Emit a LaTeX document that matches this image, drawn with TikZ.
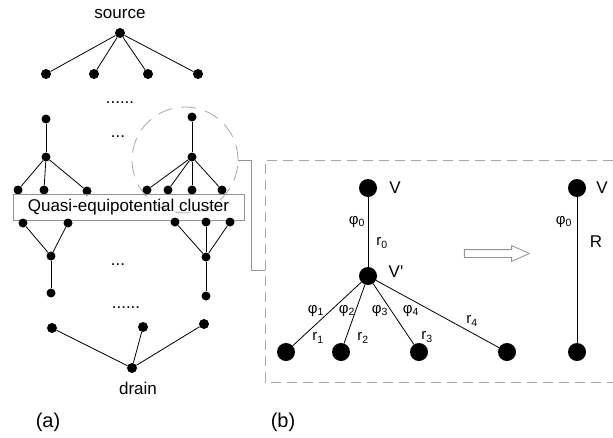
\documentclass[tikz,border=0pt]{standalone}
\usepackage{fontspec}
\setmainfont{Liberation Sans}
\usetikzlibrary{shapes.arrows}
\begin{document}
\begin{tikzpicture}[x=1pt, y=-1pt, line join=round,
  dot/.style={circle, fill=black, inner sep=0pt, minimum size=10pt},
  bigdot/.style={circle, fill=black, inner sep=0pt, minimum size=18pt},
  txt/.style={font=\fontsize{17}{20}\selectfont, inner sep=0pt},
  lbl/.style={font=\fontsize{15}{18}\selectfont, inner sep=0pt},
  edge/.style={line width=0.8pt},
  grayline/.style={draw=gray!85, line width=0.8pt},
  graydash/.style={draw=gray!70, line width=0.8pt, dash pattern=on 10pt off 6pt}]
\useasboundingbox (0,0) rectangle (613,437);
% (a) network
\node[txt] (srclbl) at (120,14) {source};
\node[dot] (src) at (120,33) {};
\node[dot] (a1) at (46,74) {};
\node[dot] (a2) at (94,74) {};
\node[dot] (a3) at (148,74) {};
\node[dot] (a4) at (198,74) {};
\foreach \n in {a1,a2,a3,a4} \draw[edge] (src) -- (\n);
\node[txt] (dotsA) at (120,103) {......};
\node[txt] (dotsB) at (118,137) {...};
% left branch
\node[dot, minimum size=9pt] (l1) at (46,119) {};
\node[dot, minimum size=9pt] (l2) at (46,157) {};
\node[dot, minimum size=9pt] (lc1) at (18,190) {};
\node[dot, minimum size=9pt] (lc2) at (44,190) {};
\node[dot, minimum size=9pt] (lc3) at (87,191) {};
\draw[edge] (l1) -- (l2);
\foreach \n in {lc1,lc2,lc3} \draw[edge] (l2) -- (\n);
% right branch
\node[dot, minimum size=9pt] (r1) at (192,117) {};
\node[dot, minimum size=9pt] (r2) at (192,157) {};
\node[dot, minimum size=9pt] (rc1) at (147,190) {};
\node[dot, minimum size=9pt] (rc2) at (168,190) {};
\node[dot, minimum size=9pt] (rc3) at (192,190) {};
\node[dot, minimum size=9pt] (rc4) at (222,190) {};
\draw[edge] (r1) -- (r2);
\foreach \n in {rc1,rc2,rc3,rc4} \draw[edge] (r2) -- (\n);
% cluster
\node[graydash, circle, minimum size=106pt, inner sep=0pt, dash pattern=on 15pt off 9pt] (clus) at (185,160) {};
\node[txt, grayline, minimum width=231pt, minimum height=26pt] (qbox) at (128.5,207) {Quasi-equipotential cluster};
\node[dot, minimum size=9pt] (ld1) at (23,223) {};
\node[dot, minimum size=9pt] (ld2) at (68,223) {};
\node[dot, minimum size=9pt] (lm) at (51,256) {};
\node[dot, minimum size=9pt] (lb) at (51,293) {};
\node[dot, minimum size=9pt] (rd1) at (175,222) {};
\node[dot, minimum size=9pt] (rd2) at (206,222) {};
\node[dot, minimum size=9pt] (rd3) at (230,222) {};
\node[dot, minimum size=9pt] (rm) at (206,257) {};
\node[dot, minimum size=9pt] (rb) at (206,296) {};
\foreach \n in {ld1,ld2,lb} \draw[edge] (lm) -- (\n);
\foreach \n in {rd1,rd2,rd3,rb} \draw[edge] (rm) -- (\n);
\node[txt] (dotsC) at (118,265) {...};
\node[txt] (dotsD) at (126,308) {......};
% drain
\node[dot] (b1) at (52,328) {};
\node[dot] (b2) at (143,327) {};
\node[dot] (b3) at (204,324) {};
\node[dot] (drn) at (132,368) {};
\foreach \n in {b1,b2,b3} \draw[edge] (drn) -- (\n);
\node[txt] (drnlbl) at (138,388) {drain};
\node[txt, font=\fontsize{20}{24}\selectfont] (capa) at (48,422) {(a)};
% (b) zoomed view
\coordinate (bx) at (265,270);
\draw[graydash] (613,160) -- (265,160) -- (265,382) -- (613,382);
\draw[grayline] (clus.east) -- ++(13,0) |- (bx);
\node[bigdot] (V) at (368,188) {};
\node[bigdot] (Vp) at (368,276) {};
\node[bigdot] (n1) at (286,352) {};
\node[bigdot] (n2) at (341,352) {};
\node[bigdot] (n3) at (419,352) {};
\node[bigdot] (n4) at (507,352) {};
\draw[edge] (V) -- (Vp);
\foreach \n in {n1,n2,n3,n4} \draw[edge] (Vp) -- (\n);
\node[txt] (Vlbl) at (395,188) {V};
\node[txt] (Vplbl) at (396,272) {V\textquotesingle};
\node[lbl] (phi0) at (357,222) {φ\textsubscript{0}};
\node[lbl] (res0) at (382,243) {r\textsubscript{0}};
\node[lbl] (phi1) at (316,311) {φ\textsubscript{1}};
\node[lbl] (phi2) at (347,311) {φ\textsubscript{2}};
\node[lbl] (phi3) at (380,311) {φ\textsubscript{3}};
\node[lbl] (phi4) at (411,311) {φ\textsubscript{4}};
\node[lbl] (res1) at (318,338) {r\textsubscript{1}};
\node[lbl] (res2) at (363,338) {r\textsubscript{2}};
\node[lbl] (res3) at (427,337) {r\textsubscript{3}};
\node[lbl] (res4) at (472,321) {r\textsubscript{4}};
\node[single arrow, draw=gray!85, line width=0.8pt, minimum height=65pt, inner sep=3.5pt,
  single arrow head extend=4pt, single arrow tip angle=48, single arrow head indent=0pt] (arr) at (492.5,253.5) {};
\node[bigdot] (W) at (577,188) {};
\node[bigdot] (Wb) at (577,352) {};
\draw[edge] (W) -- (Wb);
\node[txt] (Wlbl) at (602,188) {V};
\node[lbl] (phiR) at (564,222) {φ\textsubscript{0}};
\node[txt] (Rlbl) at (596,242) {R};
\node[txt, font=\fontsize{20}{24}\selectfont] (capb) at (283,422) {(b)};
\end{tikzpicture}
\end{document}
